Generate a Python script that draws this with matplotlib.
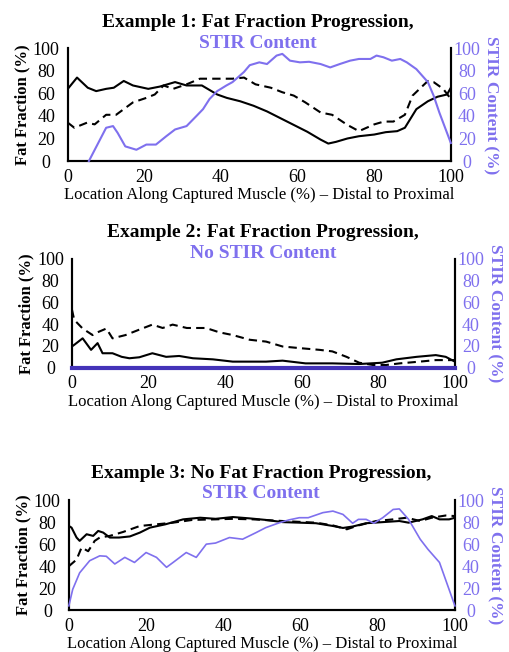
import matplotlib.pyplot as plt

plt.rcParams['font.family'] = ['Liberation Serif', 'DejaVu Serif']

PURPLE = '#7f70ee'

# ---- Example 1 ----
ex1_ff_x = [0, 2.4, 5.2, 7.4, 10, 12, 14.6, 17, 21, 24, 28, 31, 35, 39, 41.5, 45, 48.5, 52,
            55.5, 59, 62.5, 66, 68, 70, 73, 76, 80, 83, 86, 88, 91, 94, 96.5, 99, 100]
ex1_ff = [64, 74, 65, 62, 64, 65, 71, 67, 64, 66, 70, 67, 67, 59, 56, 53, 49, 44,
          38, 32, 26, 19, 15.5, 17, 20, 22, 23.5, 25.6, 26.5, 29.5, 46, 53, 57, 59, 65]
ex1_ff2_x = [0, 1.7, 5, 7, 10, 12.6, 15, 17, 20.5, 22.7, 25, 27.5, 31, 34.5, 38, 43, 46, 49,
             53, 56, 59, 62, 66, 69, 73, 76, 80, 82.5, 85, 88, 90, 94, 95.5, 98, 100]
ex1_ff2 = [34, 29.5, 34, 32.5, 41, 41, 47, 52, 56, 59, 67, 64, 68, 73, 73, 73, 74, 68,
           65, 61, 58, 52, 43, 41, 32, 26.5, 32.5, 35, 35, 41, 58, 71, 70, 64, 55]
ex1_stir_x = [5.5, 10, 11.8, 13, 15, 17.9, 20.5, 23, 25.7, 28, 31, 33.6, 35.3, 37, 39, 41.4,
              43, 46, 47.5, 50, 52, 54.5, 56, 58, 60.6, 63, 66, 68.5, 71, 73.7, 76, 79,
              80.6, 82.4, 84.6, 86.8, 88.5, 91, 94, 95.5, 97, 100]
ex1_stir = [0, 29.5, 31, 25, 13, 10, 14.6, 14.6, 22, 28, 31, 40, 46, 55, 62, 67,
            70, 79, 85, 87.5, 86, 93.5, 95, 89, 87.5, 88, 86, 83, 86, 89, 90.5, 90.5,
            93.5, 92, 89, 90.5, 87.5, 81.5, 70, 58, 43, 16]

# ---- Example 2 ----
ex2_ff_x = [0, 0.6, 2.8, 5, 6.7, 8, 10.6, 13, 15, 17.6, 21, 24.6, 28, 31.6, 36.8, 42, 50.7,
            55, 61, 68, 75, 81, 84.7, 90, 95, 97.6, 100]
ex2_ff = [19.5, 21, 27, 16.4, 22.6, 13.3, 13.3, 10, 8.7, 9.6, 13.3, 10, 10.8, 8.7, 7.7, 5.6, 5.6,
          6.5, 4, 4, 3.4, 4.6, 7.7, 10, 11.6, 10, 5.6]
ex2_ff2_x = [0, 0.6, 2.8, 5.4, 7, 9, 10.6, 14, 17.6, 21, 23.7, 26.3, 30, 35, 38.5, 42, 46.4,
             50.7, 55, 59.5, 64.7, 68, 71.7, 75, 78.6, 82, 85.6, 90.8, 95, 100]
ex2_ff2 = [53.5, 44, 36, 30, 33, 36, 27, 30, 35, 39.6, 36.5, 39.6, 36.5, 36.5, 32.5, 30, 25.7,
           24, 19.5, 18, 16.4, 15, 10, 4.6, 2.5, 2.5, 4, 5.6, 7, 7]
ex2_stir_x = [0, 100]
ex2_stir = [0, 0]

# ---- Example 3 ----
ex3_ff_x = [0, 0.7, 2, 2.8, 4.6, 6.3, 7.6, 8.9, 10.6, 13, 15.8, 18.4, 21, 25, 29.6, 34, 38,
            42.5, 46.8, 51, 55.4, 59.7, 64, 68.4, 71, 73.5, 77, 81.3, 85.6, 88, 91.6, 94, 96,
            98.5, 100]
ex3_ff = [76.5, 75, 66, 63, 69, 67.5, 72, 70.5, 66, 66, 67, 70.5, 75, 78, 82.5, 84, 83,
          84.6, 83.4, 82, 80, 79.5, 79, 76.5, 74.7, 76, 79, 80, 81, 79.5, 82.5, 85.5, 82.5,
          82.5, 84]
ex3_ff2_x = [0, 2, 3.3, 5, 6.7, 8, 10.6, 14, 18.4, 22.7, 27, 32, 38, 42.5, 47.7, 55.4, 64,
             68.4, 72, 75, 79.6, 84, 87.5, 91, 94, 97.6, 100]
ex3_ff2 = [40, 46, 57, 53.6, 63, 66, 67.5, 71, 76.5, 78, 79.5, 82, 82.5, 83, 82.5, 81, 79.5,
           77, 73.5, 77, 81, 82.5, 84, 81, 84, 86, 85.5]
ex3_stir_x = [0, 1, 2.8, 5.4, 8, 9.7, 11.9, 14.5, 17, 20, 22.7, 25.3, 27, 30.4, 33, 35.6, 38,
              41.6, 45, 48.5, 51, 54.6, 57, 59.7, 62, 65.8, 68.4, 71, 73.5, 75, 77, 79, 81.3,
              84, 85.6, 88, 91, 93, 96, 100]
ex3_stir = [4, 19, 34, 45, 49.4, 49, 42, 48, 43.4, 52.4, 48, 39, 43.4, 52.4, 48, 60, 61,
            66, 64.5, 70.5, 75, 79.5, 82, 84, 84, 88.6, 90, 87, 79, 82.5, 82.5, 79, 84,
            91.5, 92, 82.5, 64.5, 55.4, 43.4, 4]

ticks = [0, 20, 40, 60, 80, 100]
xlabel = 'Location Along Captured Muscle (%) – Distal to Proximal'

fig = plt.figure(figsize=(5.1, 6.52), dpi=100)

panels = [
    ([0.133, 0.753, 0.751, 0.173], 'Example 1: Fat Fraction Progression,', 'STIR Content',
     0.966, 0.933, 0.506, ex1_ff_x, ex1_ff, ex1_ff2_x, ex1_ff2, ex1_stir_x, ex1_stir, 1.5),
    ([0.141, 0.436, 0.751, 0.167], 'Example 2: Fat Fraction Progression,', 'No STIR Content',
     0.643, 0.611, 0.516, ex2_ff_x, ex2_ff, ex2_ff2_x, ex2_ff2, ex2_stir_x, ex2_stir, 3.0),
    ([0.135, 0.064, 0.757, 0.169], 'Example 3: No Fat Fraction Progression,', 'STIR Content',
     0.274, 0.243, 0.512, ex3_ff_x, ex3_ff, ex3_ff2_x, ex3_ff2, ex3_stir_x, ex3_stir, 1.2),
]

for (rect, t1, t2, y1, y2, xc, fx, fy, dx, dy, sx, sy, slw) in panels:
    ax = fig.add_axes(rect)
    ax2 = ax.twinx()
    ax.plot(fx, fy, color='black', lw=1.5)
    ax.plot(dx, dy, color='black', lw=1.5, ls=(0, (4, 2.5)))
    stir_color = '#4433b8' if slw > 2 else PURPLE
    ax2.plot(sx, sy, color=stir_color, lw=slw, clip_on=False, zorder=3)
    for a in (ax, ax2):
        a.set_xlim(0, 100)
        a.set_ylim(0, 100)
        a.set_yticks(ticks)
        a.spines['top'].set_visible(False)
        for s in ('left', 'right', 'bottom'):
            a.spines[s].set_linewidth(1.5)
    ax.set_xticks(ticks)
    ax.tick_params(axis='y', length=0, labelsize=13, pad=15.5)
    ax.tick_params(axis='x', length=0, labelsize=13, pad=5.5)
    ax2.tick_params(axis='y', length=0, labelsize=13, pad=11.5, labelcolor=PURPLE)
    plt.setp(ax.get_yticklabels(), ha='center')
    plt.setp(ax2.get_yticklabels(), ha='center')
    ax.set_ylabel('Fat Fraction (%)', fontsize=12, fontweight='bold', labelpad=1.5)
    ax2.set_ylabel('STIR Content (%)', fontsize=12.5, fontweight='bold', color=PURPLE,
                   rotation=270, labelpad=13)
    ax.set_xlabel(xlabel, fontsize=12, labelpad=1)
    fig.text(xc, y1, t1, ha='center', va='center', fontsize=14, fontweight='bold')
    fig.text(xc, y2, t2, ha='center', va='center', fontsize=14, fontweight='bold',
             color=PURPLE)

fig.savefig('out.png', dpi=100)
